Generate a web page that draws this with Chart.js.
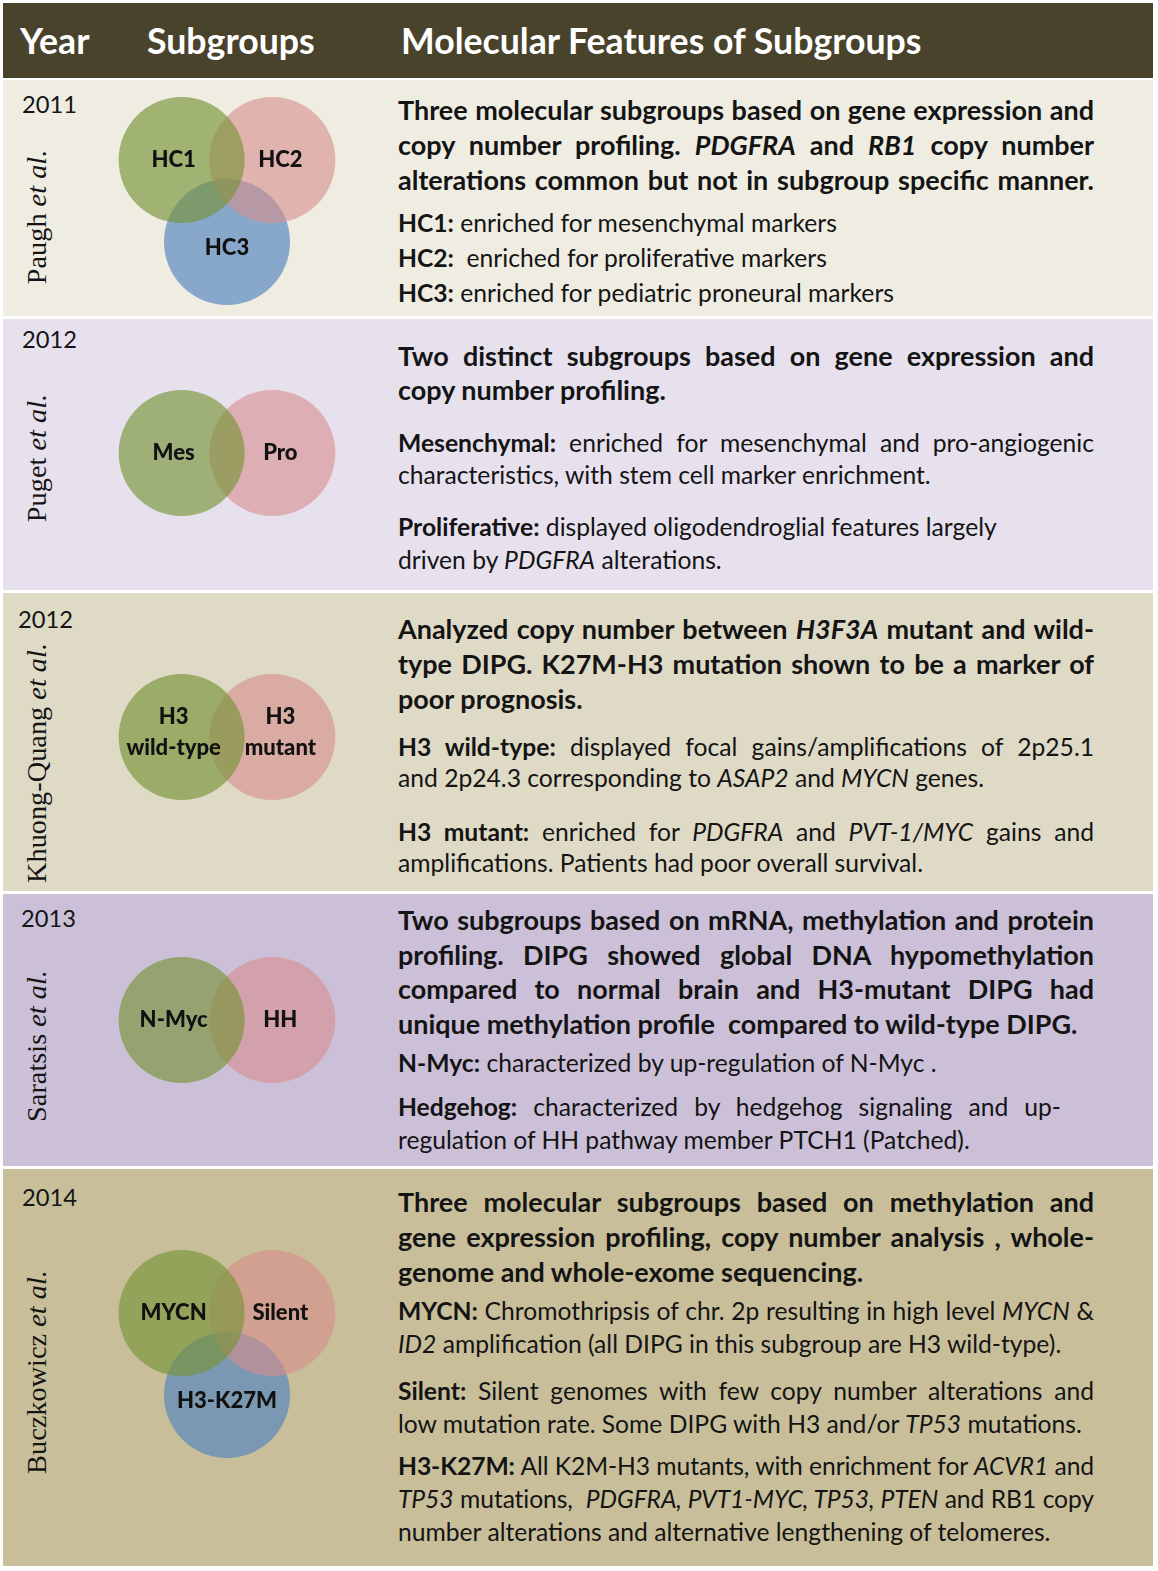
<!DOCTYPE html>
<html>
<head>
<meta charset="utf-8">
<script src="https://cdn.jsdelivr.net/npm/chart.js@4.4.1/dist/chart.umd.min.js"></script>
<style>
  :root { --body: 21px; --head: 22px; --hdr: 31px; --year: 24px; --auth: 27px; }
  html, body { margin: 0; padding: 0; background: #fff; }
  body { width: 1158px; height: 1571px; position: relative; overflow: hidden; font-family: Lato, sans-serif; color: #141414; }
  .hdr { position: absolute; left: 3px; top: 3px; width: 1150px; height: 75px; background: #4a432c; color: #fff; font-weight: bold; font-size: var(--hdr); }
  .hdr span { position: absolute; top: 50%; transform: translateY(-52%); white-space: nowrap; }
  .row { position: absolute; left: 3px; width: 1150px; }
  .year { position: absolute; font-size: var(--year); line-height: 1; transform: translateY(-50%); }
  .author { position: absolute; left: 37px; font-family: "Liberation Serif", serif; font-size: var(--auth); white-space: nowrap; transform: translate(-50%, -50%) rotate(-90deg); }
  .venn { position: absolute; }
  .para { position: absolute; left: 398px; width: 696px; font-size: var(--body); }
  .para > div { height: var(--lh); line-height: var(--lh); white-space: nowrap; }
  .para > div.j { white-space: normal; text-align: justify; text-align-last: justify; }
  .para.h { font-weight: bold; font-size: var(--head); }
</style>
</head>
<body>
<div class="hdr">
  <span style="left:17px">Year</span>
  <span style="left:144px">Subgroups</span>
  <span style="left:398px">Molecular Features of Subgroups</span>
</div>
<div id="rows"></div>

<!-- Paugh 2011 -->
<div class="para h" style="top:92px;--lh:35px">
  <div class="j">Three molecular subgroups based on gene expression and</div>
  <div class="j">copy number profiling. <i>PDGFRA</i> and <i>RB1</i> copy number</div>
  <div class="j">alterations common but not in subgroup specific manner.</div>
</div>
<div class="para" style="top:205px;--lh:35px">
  <div><b>HC1:</b> enriched for mesenchymal markers</div>
  <div><b>HC2:</b>&nbsp; enriched for proliferative markers</div>
  <div><b>HC3:</b> enriched for pediatric proneural markers</div>
</div>

<!-- Puget 2012 -->
<div class="para h" style="top:339px;--lh:34px">
  <div class="j">Two distinct subgroups based on gene expression and</div>
  <div>copy number profiling.</div>
</div>
<div class="para" style="top:427px;--lh:32px">
  <div class="j"><b>Mesenchymal:</b> enriched for mesenchymal and pro-angiogenic</div>
  <div>characteristics, with stem cell marker enrichment.</div>
</div>
<div class="para" style="top:510px;--lh:33px">
  <div><b>Proliferative:</b> displayed oligodendroglial features largely</div>
  <div>driven by <i>PDGFRA</i> alterations.</div>
</div>

<!-- Khuong-Quang 2012 -->
<div class="para h" style="top:611px;--lh:35px">
  <div class="j">Analyzed copy number between <i>H3F3A</i> mutant and wild-</div>
  <div class="j">type DIPG. K27M-H3 mutation shown to be a marker of</div>
  <div>poor prognosis.</div>
</div>
<div class="para" style="top:731px;--lh:31px">
  <div class="j"><b>H3 wild-type:</b> displayed focal gains/amplifications of 2p25.1</div>
  <div>and 2p24.3 corresponding to <i>ASAP2</i> and <i>MYCN</i> genes.</div>
</div>
<div class="para" style="top:816px;--lh:31px">
  <div class="j"><b>H3 mutant:</b> enriched for <i>PDGFRA</i> and <i>PVT-1/MYC</i> gains and</div>
  <div>amplifications. Patients had poor overall survival.</div>
</div>

<!-- Saratsis 2013 -->
<div class="para h" style="top:903px;--lh:34.5px">
  <div class="j">Two subgroups based on mRNA, methylation and protein</div>
  <div class="j">profiling. DIPG showed global DNA hypomethylation</div>
  <div class="j">compared to normal brain and H3-mutant DIPG had</div>
  <div>unique methylation profile&nbsp; compared to wild-type DIPG.</div>
</div>
<div class="para" style="top:1046px;--lh:33px">
  <div><b>N-Myc:</b> characterized by up-regulation of N-Myc .</div>
</div>
<div class="para" style="top:1090px;--lh:33px">
  <div class="j" style="width:663px"><b>Hedgehog:</b> characterized by hedgehog signaling and up-</div>
  <div>regulation of HH pathway member PTCH1 (Patched).</div>
</div>

<!-- Buczkowicz 2014 -->
<div class="para h" style="top:1184px;--lh:35px">
  <div class="j">Three molecular subgroups based on methylation and</div>
  <div class="j">gene expression profiling, copy number analysis , whole-</div>
  <div>genome and whole-exome sequencing.</div>
</div>
<div class="para" style="top:1294px;--lh:33px">
  <div class="j"><b>MYCN:</b> Chromothripsis of chr. 2p resulting in high level <i>MYCN</i> &amp;</div>
  <div><i>ID2</i> amplification (all DIPG in this subgroup are H3 wild-type).</div>
</div>
<div class="para" style="top:1374px;--lh:33px">
  <div class="j"><b>Silent:</b> Silent genomes with few copy number alterations and</div>
  <div>low mutation rate. Some DIPG with H3 and/or <i>TP53</i> mutations.</div>
</div>
<div class="para" style="top:1449px;--lh:33px">
  <div class="j"><b>H3-K27M:</b> All K2M-H3 mutants, with enrichment for <i>ACVR1</i> and</div>
  <div class="j"><i>TP53</i> mutations,&nbsp; <i>PDGFRA, PVT1-MYC, TP53, PTEN</i> and RB1 copy</div>
  <div>number alterations and alternative lengthening of telomeres.</div>
</div>

<script>
// studies, one per row
const years = ['2011', '2012', '2012', '2013', '2014'];
const authors = ['Paugh', 'Puget', 'Khuong-Quang', 'Saratsis', 'Buczkowicz'];

// subgroups of each study (venn sets)
const paughSets = ['HC1', 'HC2', 'HC3'];
const pugetSets = ['Mes', 'Pro'];
const khuongSets = ['H3\nwild-type', 'H3\nmutant'];
const saratsisSets = ['N-Myc', 'HH'];
const buczkowiczSets = ['MYCN', 'Silent', 'H3-K27M'];

// venn set centres, in units of one circle radius
const twoSetX = [-0.72, 0.72];
const twoSetY = [0, 0];
const threeSetX = [-0.72, 0.72, 0];
const threeSetY = [0.65, 0.65, -0.65];

// page layout (pixels)
const rowTop = [80, 319, 593, 894, 1169];
const rowHeight = [236, 271, 298, 272, 397];
const rowColor = ['#efede2', '#e7e1ee', '#dfdac5', '#ccc0d9', '#c8bf9a'];
const yearPos = [[22, 105], [22, 340], [18, 620], [21, 919], [22, 1198]];
const authorMid = [217, 458, 763, 1046, 1372];
const vennMid = [201, 453, 737, 1020, 1354];

const setColors = ['rgba(118,148,56,0.65)', 'rgba(215,140,140,0.6)', 'rgba(80,130,190,0.65)'];

// size the fonts so the lines run as wide as in the figure
const meas = document.createElement('canvas').getContext('2d');
function fitPx(text, font, target) {
    meas.font = font.replace('{s}', '100px');
    return 100 * target / meas.measureText(text).width;
}
const rootStyle = document.documentElement.style;
rootStyle.setProperty('--body', fitPx('number alterations and alternative lengthening of telomeres.', '{s} Lato', 654) + 'px');
rootStyle.setProperty('--head', fitPx('genome and whole-exome sequencing.', 'bold {s} Lato', 466) + 'px');
rootStyle.setProperty('--hdr', fitPx('Molecular Features of Subgroups', 'bold {s} Lato', 522) + 'px');
rootStyle.setProperty('--year', fitPx('2011', '{s} Lato', 55) + 'px');
rootStyle.setProperty('--auth', fitPx('Paugh et al.', '{s} "Liberation Serif"', 133) + 'px');
const labelFont = '900 {s} Lato';
const labelPx = fitPx('H3-K27M', labelFont, 100);

// squeeze any justified line that would wrap onto a second line
document.querySelectorAll('.para > div.j').forEach(el => {
    let lh = parseFloat(getComputedStyle(el).lineHeight);
    let ls = 0;
    while (el.scrollHeight > lh * 1.5 && ls > -1.5) {
        ls -= 0.1;
        el.style.letterSpacing = ls + 'px';
    }
});

const rowsEl = document.getElementById('rows');
years.forEach((yr, i) => {
    let row = document.createElement('div');
    row.className = 'row';
    row.style.top = rowTop[i] + 'px';
    row.style.height = rowHeight[i] + 'px';
    row.style.background = rowColor[i];
    rowsEl.appendChild(row);

    let y = document.createElement('div');
    y.className = 'year';
    y.textContent = yr;
    y.style.left = yearPos[i][0] + 'px';
    y.style.top = yearPos[i][1] + 'px';
    rowsEl.appendChild(y);

    let a = document.createElement('div');
    a.className = 'author';
    a.innerHTML = authors[i] + ' <i>et al.</i>';
    a.style.top = authorMid[i] + 'px';
    rowsEl.appendChild(a);
});

// circle labels, nudged away from the overlap
const vennLabels = {
    id: 'vennLabels',
    afterDatasetsDraw(chart) {
        const ctx = chart.ctx;
        ctx.save();
        ctx.font = labelFont.replace('{s}', labelPx + 'px');
        ctx.fillStyle = '#111';
        ctx.textAlign = 'center';
        ctx.textBaseline = 'middle';
        chart.data.datasets.forEach((ds, i) => {
            let pt = chart.getDatasetMeta(i).data[0];
            let raw = ds.data[0];
            let dx = raw.x < 0 ? -8 : (raw.x > 0 ? 8 : 0);
            let dy = raw.y < 0 ? 6 : 0;
            let lines = ds.label.split('\n');
            lines.forEach((ln, k) => {
                let off = (k - (lines.length - 1) / 2) * 31 - (lines.length > 1 ? 5 : 0);
                ctx.fillText(ln, pt.x + dx, pt.y + dy + off);
            });
        });
        ctx.restore();
    }
};

const SPAN = 2.222;
function circleRadius(c) {
    const s = c.chart.scales.x;
    return s ? Math.abs(s.getPixelForValue(1) - s.getPixelForValue(0)) : 63;
}

function drawVenn(i, sets, xs, ys) {
    let cv = document.createElement('canvas');
    cv.className = 'venn';
    cv.width = 280;
    cv.height = 280;
    cv.style.left = '87px';
    cv.style.top = (vennMid[i] - 140) + 'px';
    document.body.appendChild(cv);

    new Chart(cv, {
        type: 'scatter',
        data: {
            // first set is painted last, so it sits on top
            datasets: sets.map((name, k) => ({
                label: name,
                data: [{ x: xs[k], y: ys[k] }],
                backgroundColor: setColors[k],
                borderWidth: 0,
                pointRadius: circleRadius,
                pointHoverRadius: circleRadius,
                order: k
            }))
        },
        options: {
            responsive: false,
            animation: false,
            events: [],
            layout: { padding: 0 },
            plugins: { legend: { display: false }, tooltip: { enabled: false } },
            scales: {
                x: { type: 'linear', min: -SPAN, max: SPAN, display: false },
                y: { type: 'linear', min: -SPAN, max: SPAN, display: false }
            }
        },
        plugins: [vennLabels]
    });
}

drawVenn(0, paughSets, threeSetX, threeSetY);
drawVenn(1, pugetSets, twoSetX, twoSetY);
drawVenn(2, khuongSets, twoSetX, twoSetY);
drawVenn(3, saratsisSets, twoSetX, twoSetY);
drawVenn(4, buczkowiczSets, threeSetX, threeSetY);
</script>
</body>
</html>
